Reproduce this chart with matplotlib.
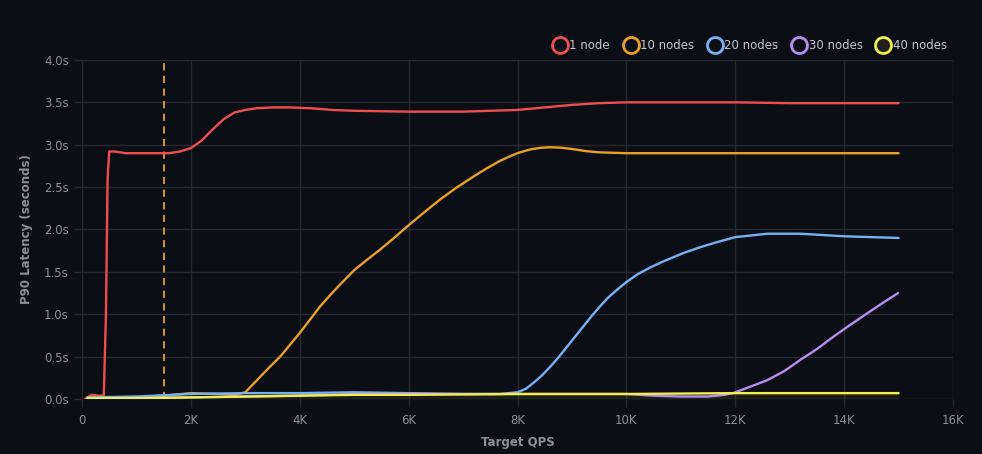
import matplotlib
matplotlib.use("Agg")
import matplotlib.pyplot as plt
from matplotlib.lines import Line2D
from matplotlib.ticker import FuncFormatter, MultipleLocator

# Target QPS (in thousands) and P90 latency (seconds) per cluster size
x_1node = [0.05, 0.18, 0.3, 0.4, 0.44, 0.47, 0.5, 0.6, 0.8, 1.0, 1.3, 1.6, 1.8, 2.0, 2.2, 2.4, 2.6,
           2.8, 3.0, 3.2, 3.5, 3.8, 4.2, 4.6, 5.0, 6.0, 7.0, 7.5, 8.0, 8.5, 9.0, 9.5, 10.0, 11, 12,
           13, 14, 15]
y_1node = [0.0, 0.05, 0.04, 0.04, 1.0, 2.6, 2.92, 2.92, 2.9, 2.9, 2.9, 2.9, 2.92, 2.96, 3.05,
           3.18, 3.3, 3.38, 3.41, 3.43, 3.44, 3.44, 3.43, 3.41, 3.4, 3.39, 3.39, 3.4, 3.41, 3.44,
           3.47, 3.49, 3.5, 3.5, 3.5, 3.49, 3.49, 3.49]

x_10nodes = [0.1, 0.5, 1.0, 1.5, 2.0, 2.5, 2.8, 3.0, 3.27, 3.45, 3.64, 3.82, 4.0, 4.18, 4.37, 4.55,
             4.74, 5.0, 5.23, 5.47, 5.73, 6.0, 6.28, 6.57, 6.87, 7.18, 7.43, 7.68, 7.85, 8.0, 8.15,
             8.28, 8.45, 8.6, 8.8, 9.0, 9.25, 9.5, 10, 11, 12, 13, 14, 15]
y_10nodes = [0.01, 0.01, 0.02, 0.04, 0.07, 0.06, 0.05, 0.08, 0.26, 0.38, 0.5, 0.64, 0.78, 0.93,
             1.09, 1.22, 1.35, 1.52, 1.64, 1.76, 1.9, 2.05, 2.2, 2.35, 2.49, 2.62, 2.72, 2.81,
             2.86, 2.9, 2.93, 2.95, 2.965, 2.97, 2.965, 2.95, 2.925, 2.91, 2.9, 2.9, 2.9, 2.9, 2.9,
             2.9]

x_20nodes = [0.1, 1.0, 2.0, 3.0, 4.0, 5.0, 6.0, 7.0, 7.68, 8.0, 8.15, 8.29, 8.45, 8.6, 8.75, 8.9,
             9.05, 9.2, 9.35, 9.51, 9.67, 9.83, 10.0, 10.2, 10.43, 10.7, 11.04, 11.35, 11.66, 12.0,
             12.3, 12.58, 13.2, 14.0, 15.0]
y_20nodes = [0.02, 0.03, 0.06, 0.07, 0.07, 0.08, 0.07, 0.06, 0.06, 0.08, 0.12, 0.19, 0.28, 0.38,
             0.49, 0.61, 0.73, 0.85, 0.97, 1.09, 1.2, 1.29, 1.38, 1.47, 1.55, 1.63, 1.72, 1.79, 1.85,
             1.91, 1.93, 1.95, 1.95, 1.92, 1.9]

x_30nodes = [0.1, 1.0, 2.0, 3.0, 4.0, 5.0, 6.0, 8.0, 10.0, 10.5, 11.0, 11.5, 11.8, 11.96, 12.25,
             12.58, 12.9, 13.19, 13.5, 13.79, 14.1, 14.42, 14.7, 14.99]
y_30nodes = [0.01, 0.01, 0.02, 0.03, 0.04, 0.06, 0.06, 0.06, 0.06, 0.04, 0.03, 0.03, 0.05, 0.07,
             0.14, 0.22, 0.33, 0.46, 0.59, 0.73, 0.87, 1.01, 1.13, 1.25]

x_40nodes = [0.1, 1.0, 2.0, 3.0, 4.0, 5.0, 6.0, 8.0, 10.0, 12.0, 13.0, 14.0, 15.0]
y_40nodes = [0.01, 0.01, 0.02, 0.03, 0.04, 0.05, 0.05, 0.06, 0.06, 0.07, 0.07, 0.07, 0.07]

labels = ["1 node", "10 nodes", "20 nodes", "30 nodes", "40 nodes"]
colors = ["#ef4e4e", "#e9a023", "#74b2f7", "#b88cf0", "#f2ef4a"]
marker_face = ["#0b0e14", "#0b0e14", "#0b0e14", "#0b0e14", "#1e211c"]
threshold_qps = 1.5

bg = "#0b0e14"
grid_col = "#25282e"
text_col = "#8b9099"

fig = plt.figure(figsize=(9.82, 4.54), dpi=100, facecolor=bg)
ax = fig.add_axes([0.0835, 0.121, 0.887, 0.747], facecolor=bg)

series = [(x_1node, y_1node), (x_10nodes, y_10nodes), (x_20nodes, y_20nodes),
          (x_30nodes, y_30nodes), (x_40nodes, y_40nodes)]

# yellow series has a faint area under it
ax.fill_between(x_40nodes, y_40nodes, 0, color="#f2ef4a", alpha=0.07, lw=0, zorder=2)

for i in [4, 3, 2, 1, 0]:
    xs, ys = series[i]
    ax.plot(xs, ys, color=colors[i], lw=1.7, solid_capstyle="round", solid_joinstyle="round",
            zorder=3 + i)

ax.axvline(threshold_qps, color="#e9a023", lw=1.3, ls=(0, (4, 3)), zorder=2)

ax.set_xlim(0, 16)
ax.set_ylim(0, 4)
ax.xaxis.set_major_locator(MultipleLocator(2))
ax.yaxis.set_major_locator(MultipleLocator(0.5))
ax.xaxis.set_major_formatter(FuncFormatter(lambda v, p: "0" if v == 0 else "%dK" % v))
ax.yaxis.set_major_formatter(FuncFormatter(lambda v, p: "%.1fs" % v))

ax.grid(True, color=grid_col, lw=1)
ax.set_axisbelow(True)
for s in ax.spines.values():
    s.set_visible(False)
ax.tick_params(colors=grid_col, labelcolor=text_col, labelsize=8.5, length=6, width=1)
ax.tick_params(axis="x", pad=5)

ax.set_xlabel("Target QPS", color=text_col, fontsize=8.5, fontweight="bold", labelpad=6)
ax.set_ylabel("P90 Latency (seconds)", color=text_col, fontsize=8.5, fontweight="bold", labelpad=8)

handles = [Line2D([], [], ls="none", marker="o", markersize=11.5, markeredgewidth=2,
                  markeredgecolor=colors[i], markerfacecolor=marker_face[i]) for i in range(5)]
leg = fig.legend(handles, labels, loc="upper right", bbox_to_anchor=(0.975, 0.937), ncol=5,
                 frameon=False, fontsize=8.5, handletextpad=0.05, columnspacing=1.0,
                 handlelength=1.5)
for t in leg.get_texts():
    t.set_color("#c4c8ce")

fig.savefig("out.png", dpi=100, facecolor=bg)
